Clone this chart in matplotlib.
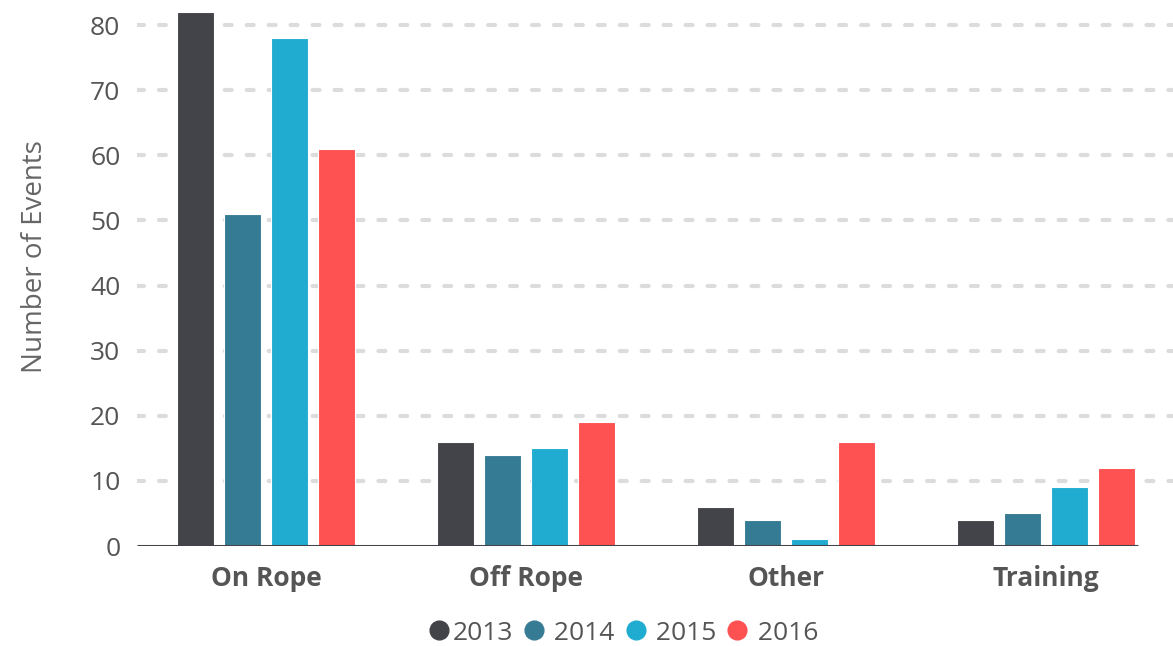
import matplotlib.pyplot as plt
from matplotlib.lines import Line2D
import numpy as np

# event counts per category and year
categories = ['On Rope', 'Off Rope', 'Other', 'Training']
years = ['2013', '2014', '2015', '2016']
counts_2013 = [82, 16, 6, 4]
counts_2014 = [51, 14, 4, 5]
counts_2015 = [78, 15, 1, 9]
counts_2016 = [61, 19, 16, 12]
yticks = [0, 10, 20, 30, 40, 50, 60, 70, 80]

colors = ['#424449', '#367b94', '#20acd0', '#fe5151']
series = [counts_2013, counts_2014, counts_2015, counts_2016]

plt.rcParams['font.family'] = ['Open Sans', 'DejaVu Sans']
plt.rcParams['lines.scale_dashes'] = False

fig = plt.figure(figsize=(11.73, 6.46), dpi=100)
ax = fig.add_axes([137 / 1173, 100 / 646, 1036 / 1173, 546 / 646])

x = np.arange(len(categories))
bar_w = 0.142
step = 0.181

# dotted grid first so bars sit on top
for t in yticks[1:]:
    ax.axhline(t, color='#dcdcdc', lw=3, linestyle=(0, (5, 10.8)),
               dash_capstyle='round', zorder=0)

for i, (vals, c) in enumerate(zip(series, colors)):
    ax.bar(x + (i - 1.5) * step, vals, width=bar_w, color=c,
           edgecolor='white', linewidth=0.8, zorder=2)

ax.set_xlim(-0.496, 3.488)
ax.set_ylim(0, 83.84)
ax.hlines(0, -0.496, 3.354, color='#424449', lw=2.2, zorder=3)

for s in ax.spines.values():
    s.set_visible(False)

ax.set_yticks(yticks)
ax.set_xticks(x)
ax.set_xticklabels(categories, fontweight='bold')
ax.tick_params(axis='y', length=0, pad=12, labelsize=19, labelcolor='#555555')
ax.tick_params(axis='x', length=0, pad=14, labelsize=19, labelcolor='#555555')

ax.set_ylabel('Number of Events', fontsize=20, color='#666666')
ax.yaxis.set_label_coords(-0.085, 0.53)

handles = [Line2D([], [], marker='o', linestyle='none', markersize=13.5,
                  markerfacecolor=c, markeredgecolor=c) for c in colors]
labels = [years[0]] + [' ' + y for y in years[1:]]
fig.legend(handles, labels, loc='center', bbox_to_anchor=(622 / 1173, 1 - 633 / 646),
           ncol=4, frameon=False, fontsize=19, labelcolor='#555555',
           handletextpad=0.0, columnspacing=0.3, handlelength=1.0)

fig.savefig('out.png', dpi=100)
